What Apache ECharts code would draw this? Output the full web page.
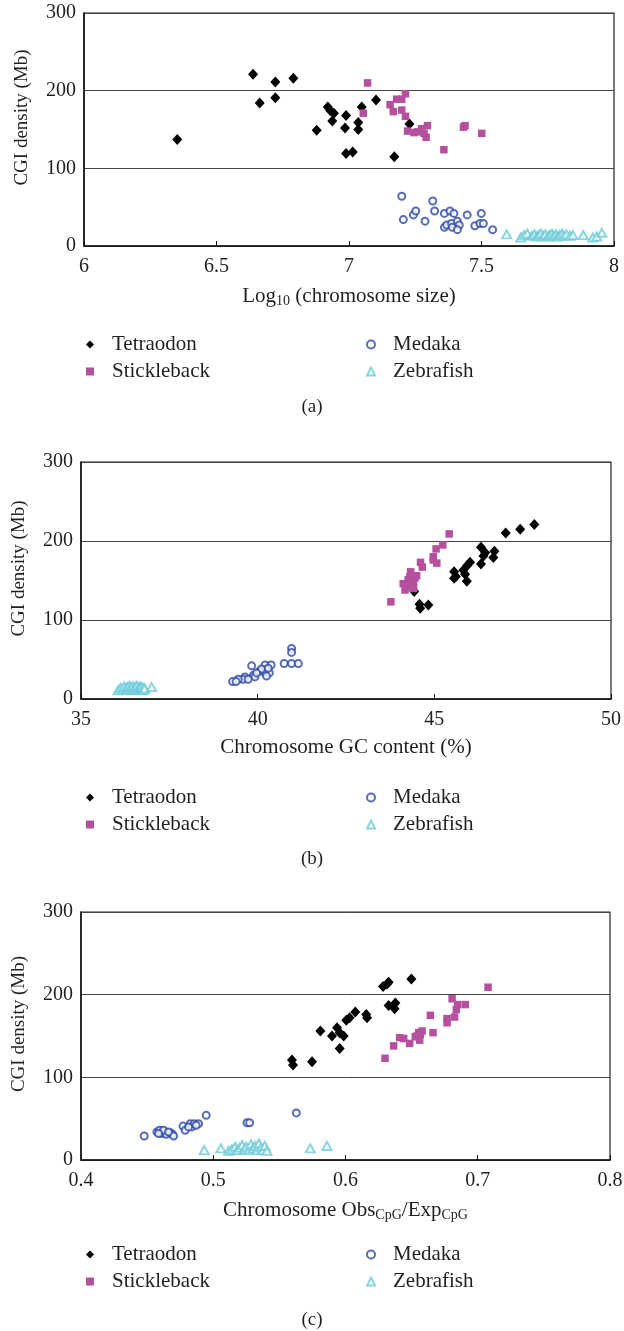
<!DOCTYPE html>
<html>
<head>
<meta charset="utf-8">
<title>CGI density</title>
<script src="https://cdn.jsdelivr.net/npm/echarts@6/dist/echarts.min.js"></script>
<style>
  html, body { margin: 0; padding: 0; background: #fff; }
  #chart { width: 624px; height: 1331px; }
</style>
</head>
<body>
<div id="chart"></div>
<script>
// species names
var species = ['Tetraodon', 'Stickleback', 'Medaka', 'Zebrafish'];

// y tick labels (same for all panels)
var yTicks = [0, 100, 200, 300];

// (a) log10 chromosome size vs CGI density
var tetraodonA = [[6.352,137],[6.638,221],[6.722,211],[6.79,216],[6.663,184],[6.722,191],[6.92,179],[6.93,174],[6.943,171],[6.937,161],[6.878,149],[6.989,168],[6.985,152],[6.989,119],[7.014,121],[7.048,179],[7.102,188],[7.035,159],[7.035,150],[7.171,115],[7.228,157]];
var sticklebackA = [[7.07,210],[7.054,171],[7.155,182],[7.18,189],[7.199,189],[7.213,196],[7.167,173],[7.199,175],[7.213,167],[7.221,148],[7.245,146],[7.258,147],[7.274,151],[7.296,155],[7.291,140],[7.283,145],[7.358,124],[7.432,153],[7.438,155],[7.501,145]];
var medakaA = [[7.199,64],[7.316,58],[7.205,34],[7.243,40],[7.252,45],[7.287,32],[7.323,45],[7.36,42],[7.381,45],[7.396,42],[7.446,40],[7.499,42],[7.36,24],[7.369,27],[7.387,29],[7.39,24],[7.409,32],[7.416,27],[7.409,21],[7.475,26],[7.494,29],[7.507,29],[7.542,21]];
var zebrafishA = [[7.595,15],[7.648,11],[7.66,14],[7.673,16],[7.69,13],[7.70,15],[7.708,12],[7.716,14],[7.724,16],[7.733,13],[7.741,15],[7.75,12],[7.757,14],[7.766,16],[7.772,13],[7.781,15],[7.787,12],[7.795,14],[7.804,16],[7.81,13],[7.821,15],[7.834,13],[7.845,14],[7.884,14],[7.92,11],[7.935,12],[7.954,17]];

// (b) chromosome GC content vs CGI density
var tetraodonB = [[47.83,221],[47.43,215],[47.02,210],[46.32,192],[46.44,185],[46.70,187],[46.67,179],[46.39,181],[46.32,171],[46.01,173],[45.93,169],[45.56,161],[45.61,155],[45.87,158],[45.92,149],[45.56,153],[44.43,136],[44.58,120],[44.60,115],[44.83,119],[45.82,163]];
var sticklebackB = [[45.42,209],[45.24,195],[45.05,190],[44.97,180],[45.07,172],[44.97,176],[44.61,173],[44.66,167],[44.41,155],[44.31,155],[44.12,146],[44.22,142],[44.36,149],[44.45,153],[44.26,151],[44.41,144],[44.17,138],[43.77,123],[44.50,156],[44.33,161],[44.41,140]];
var medakaB = [[40.96,64],[40.96,59],[40.75,45],[40.96,45],[41.15,45],[39.83,42],[40.21,43],[40.38,43],[40.25,37],[40.21,33],[40.33,33],[40.05,35],[39.88,30],[39.92,28],[39.64,28],[39.59,25],[39.45,25],[39.29,22],[39.39,22],[40.25,29],[40.11,38],[39.73,25],[40.30,39],[39.97,33]];
var zebrafishB = [[36.05,11],[36.12,14],[36.18,12],[36.22,16],[36.27,13],[36.3,15],[36.34,12],[36.37,17],[36.4,14],[36.43,11],[36.46,16],[36.5,13],[36.53,15],[36.55,12],[36.58,17],[36.62,14],[36.65,12],[36.68,16],[36.7,13],[36.72,15],[36.75,11],[36.78,14],[36.8,13],[37.0,15]];

// (c) Obs/Exp CpG vs CGI density
var tetraodonC = [[0.5595,121],[0.5603,115],[0.5747,119],[0.581,156],[0.5898,150],[0.5936,160],[0.5956,154],[0.5986,150],[0.5956,135],[0.6006,169],[0.6031,172],[0.6074,179],[0.6157,176],[0.6163,172],[0.6284,210],[0.6314,213],[0.6326,215],[0.6498,219],[0.6326,187],[0.6377,190],[0.6371,183]];
var sticklebackC = [[0.7078,209],[0.6806,195],[0.6848,188],[0.6906,188],[0.6838,182],[0.6825,173],[0.6768,171],[0.6768,166],[0.6642,175],[0.6662,154],[0.6579,156],[0.6553,154],[0.6528,149],[0.6561,145],[0.6485,141],[0.644,147],[0.6409,148],[0.6364,138],[0.6299,123],[0.6541,150],[0.6566,152]];
var medakaC = [[0.4478,29],[0.4574,34],[0.4594,36],[0.4612,32],[0.4637,34],[0.4645,31],[0.4675,33],[0.4692,31],[0.47,29],[0.4771,41],[0.4788,36],[0.4826,44],[0.4839,40],[0.4856,44],[0.4889,44],[0.4947,54],[0.5255,45],[0.5275,45],[0.5628,57],[0.4624,36],[0.4813,40],[0.4586,32],[0.4662,34],[0.4871,42]];
var zebrafishC = [[0.4932,12],[0.5058,14],[0.5116,11],[0.514,13],[0.5165,16],[0.518,12],[0.52,15],[0.522,18],[0.5235,13],[0.525,16],[0.527,12],[0.5285,19],[0.53,14],[0.5315,17],[0.533,12],[0.5345,20],[0.536,15],[0.5375,12],[0.539,17],[0.5406,11],[0.5734,14],[0.586,17]];

// x axis ticks per panel
var xTicksA = [6, 6.5, 7, 7.5, 8];
var xTicksB = [35, 40, 45, 50];
var xTicksC = [0.4, 0.5, 0.6, 0.7, 0.8];

var serif = "'Liberation Serif', 'DejaVu Serif', serif";
var txt = '#231f20';
var colors = { Tetraodon: '#000000', Stickleback: '#b5509e', Medaka: '#2e48a6', Zebrafish: '#6ccbd8' };

// panel geometry
var grids = [
  { left: 84, right: 10, top: 13, height: 233 },
  { left: 81, right: 13, top: 462, height: 237 },
  { left: 81, right: 14, top: 912, height: 248 }
];
var xNames = [
  '{n|Log}{s|10}{n| (chromosome size)}',
  '{n|Chromosome GC content (%)}',
  '{n|Chromosome Obs}{s|CpG}{n|/Exp}{s|CpG}'
];
var xTickSets = [xTicksA, xTicksB, xTicksC];
var legendTops = [329, 782, 1239];
var labelTops = [393, 845, 1306];

var nameRich = {
  n: { fontFamily: serif, fontSize: 21, color: txt },
  s: { fontFamily: serif, fontSize: 14, color: txt, padding: [10, 0, 0, 0] }
};

var xAxes = [], yAxes = [], legends = [], titles = [];
grids.forEach(function (g, i) {
  g.show = true;
  g.borderColor = '#222';
  g.borderWidth = 1.2;
  g.outerBoundsMode = 'none';
  var t = xTickSets[i];
  xAxes.push({
    gridIndex: i, type: 'value',
    min: t[0], max: t[t.length - 1], interval: t[1] - t[0],
    name: xNames[i], nameLocation: 'middle', nameGap: 38,
    nameTextStyle: { rich: nameRich },
    axisLine: { lineStyle: { color: '#111', width: 1.5 } },
    axisTick: { inside: true, length: 5, lineStyle: { color: '#111' } },
    axisLabel: {
      margin: 11, fontFamily: serif, fontSize: 20, color: txt,
      formatter: function (v) { return String(+v.toFixed(2)); }
    },
    splitLine: { show: false }
  });
  yAxes.push({
    gridIndex: i, type: 'value',
    min: yTicks[0], max: yTicks[yTicks.length - 1], interval: 100,
    name: 'CGI density (Mb)', nameLocation: 'middle', nameGap: 52,
    nameTextStyle: { fontFamily: serif, fontSize: 19, color: txt, padding: [0, 0, 0, 24] },
    axisLine: { lineStyle: { color: '#111', width: 1.5 } },
    axisTick: { show: false },
    axisLabel: { margin: 8, fontFamily: serif, fontSize: 20, color: txt },
    splitLine: { lineStyle: { color: '#444', width: 1 } }
  });
  var legBase = {
    orient: 'vertical', top: legendTops[i], itemWidth: 8, itemHeight: 8, itemGap: 6,
    formatter: function (n) { return '{p|' + n + '}'; },
    textStyle: {
      fontFamily: serif, fontSize: 21, color: txt, lineHeight: 20,
      rich: { p: { fontFamily: serif, fontSize: 21, color: txt, lineHeight: 20, padding: [0, 0, 0, 13] } }
    },
    selectedMode: false
  };
  legends.push(Object.assign({}, legBase, {
    left: 81,
    data: [
      { name: 'Tetraodon', icon: 'diamond' },
      { name: 'Stickleback', icon: 'rect' }
    ]
  }));
  legends.push(Object.assign({}, legBase, {
    left: 361,
    data: [
      { name: 'Medaka', icon: 'emptyCircle' },
      { name: 'Zebrafish', icon: 'emptyTriangle' }
    ]
  }));
  titles.push({
    text: '(' + 'abc'[i] + ')', left: 'center', top: labelTops[i],
    textStyle: { fontFamily: serif, fontSize: 19, fontWeight: 'normal', color: txt }
  });
});

function scatter(name, data, idx) {
  var s = {
    name: name, type: 'scatter', xAxisIndex: idx, yAxisIndex: idx, data: data,
    itemStyle: { color: colors[name], opacity: 1 }
  };
  if (name === 'Tetraodon') { s.symbol = 'diamond'; s.symbolSize = [10, 11]; }
  if (name === 'Stickleback') { s.symbol = 'rect'; s.symbolSize = 7.5; }
  if (name === 'Medaka') {
    s.symbol = 'emptyCircle'; s.symbolSize = 7;
    s.itemStyle = { color: colors[name], borderColor: colors[name], borderWidth: 1.1 };
  }
  if (name === 'Zebrafish') {
    s.symbol = 'emptyTriangle'; s.symbolSize = [9, 8];
    s.itemStyle = { color: colors[name], borderColor: colors[name], borderWidth: 1.1 };
  }
  return s;
}

var series = [
  scatter('Tetraodon', tetraodonA, 0), scatter('Stickleback', sticklebackA, 0),
  scatter('Medaka', medakaA, 0), scatter('Zebrafish', zebrafishA, 0),
  scatter('Tetraodon', tetraodonB, 1), scatter('Stickleback', sticklebackB, 1),
  scatter('Medaka', medakaB, 1), scatter('Zebrafish', zebrafishB, 1),
  scatter('Tetraodon', tetraodonC, 2), scatter('Stickleback', sticklebackC, 2),
  scatter('Medaka', medakaC, 2), scatter('Zebrafish', zebrafishC, 2)
];

var chart = echarts.init(document.getElementById('chart'));
chart.setOption({
  animation: false,
  backgroundColor: '#fff',
  title: titles,
  legend: legends,
  grid: grids,
  xAxis: xAxes,
  yAxis: yAxes,
  series: series
});
</script>
</body>
</html>
